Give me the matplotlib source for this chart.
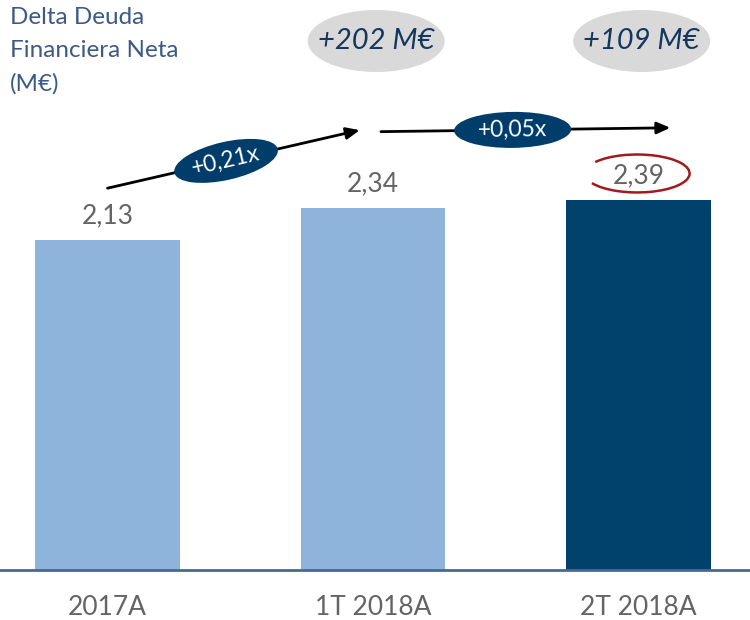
import math

import matplotlib
matplotlib.use("Agg")
import matplotlib.pyplot as plt
from matplotlib.patches import Arc, Ellipse
from matplotlib.transforms import ScaledTranslation, blended_transform_factory

# data
categories = ["2017A", "1T 2018A", "2T 2018A"]
values = [2.13, 2.34, 2.39]
value_labels = ["2,13", "2,34", "2,39"]
bar_colors = ["#8fb4dc", "#8fb4dc", "#00426c"]
change_labels = ["+0,21x", "+0,05x"]
delta_labels = ["+202 M€", "+109 M€"]

NAVY = "#003d6b"
GREY_TXT = "#646464"
TITLE_COL = "#3b5a86"
AXIS_COL = "#4a6890"
DPI = 100

plt.rcParams["font.family"] = ["Lato", "DejaVu Sans"]

fig = plt.figure(figsize=(7.5, 6.2), dpi=DPI)
ax = fig.add_axes([0, 50 / 620, 1, 570 / 620])

x = list(range(len(categories)))
ax.bar(x, values, width=0.546, color=bar_colors, zorder=2)

for xi, v, lab in zip(x, values, value_labels):
    ax.annotate(lab, (xi, v), xytext=(0, 24), textcoords="offset pixels",
                ha="center", va="center", fontsize=19, color=GREY_TXT)

ax.set_xlim(-0.405, 2.42)
ax.set_ylim(0, 3.68)
ax.set_xticks(x)
ax.set_xticklabels(categories, fontsize=19, color=GREY_TXT)
ax.tick_params(axis="x", length=0, pad=18)
ax.set_yticks([])
for side in ["top", "left", "right"]:
    ax.spines[side].set_visible(False)
ax.spines["bottom"].set_color(AXIS_COL)
ax.spines["bottom"].set_linewidth(2)


def pixel_ellipse(xy, w_px, h_px, angle, transform, **kw):
    # ellipse sized in pixels, centred on a point given in `transform` coords
    tr = fig.dpi_scale_trans + ScaledTranslation(xy[0], xy[1], transform)
    e = Ellipse((0, 0), w_px / DPI, h_px / DPI, angle=angle, transform=tr, **kw)
    ax.add_artist(e)
    return e


# arrows between bars, anchored to the bar values
arrow_segments = [
    ((x[0], values[0] + 0.335), (x[1] - 0.05, values[1] + 0.50)),
    ((x[1] + 0.03, values[1] + 0.49), (x[2] + 0.12, values[2] + 0.465)),
]
bubble_sizes = [(106, 38), (117, 36)]
for (start, end), lab, t, (bw, bh) in zip(arrow_segments, change_labels, [0.47, 0.455], bubble_sizes):
    ax.annotate("", xy=end, xytext=start,
                arrowprops=dict(arrowstyle="-|>,head_length=0.8,head_width=0.35",
                                color="black", lw=2, shrinkA=0, shrinkB=0))
    mx = start[0] + (end[0] - start[0]) * t
    my = start[1] + (end[1] - start[1]) * t
    p0 = ax.transData.transform(start)
    p1 = ax.transData.transform(end)
    ang = math.degrees(math.atan2(p1[1] - p0[1], p1[0] - p0[0]))
    pixel_ellipse((mx, my), bw, bh, ang, ax.transData, fc=NAVY, ec="none", zorder=4)
    ax.text(mx, my, lab, rotation=ang, rotation_mode="anchor", ha="center", va="center",
            fontsize=16.5, color="white", zorder=5)

# grey bubbles with the debt change
trans = blended_transform_factory(ax.transData, ax.transAxes)
for xi, lab in zip(x[1:], delta_labels):
    pos = (xi + 0.012, 1 - 41 / 570)
    pixel_ellipse(pos, 137, 62, 0, trans, fc="#d9d9d9", ec="none", zorder=3)
    ax.text(pos[0], pos[1], lab, transform=trans, ha="center", va="center",
            fontsize=21, style="italic", color="#15365e", zorder=4)

# hand-drawn red circle around the last value
ax.add_patch(Arc((x[2] - 0.005, values[2] + 0.17), 0.395, 0.245, theta1=200, theta2=515,
                 color="#a01c1c", lw=1.8, zorder=5))

fig.text(10 / 750, 1 - 7 / 620, "Delta Deuda\nFinanciera Neta\n(M€)", ha="left", va="top",
         fontsize=17.5, color=TITLE_COL, linespacing=1.7)

fig.savefig("out.png", dpi=DPI)
